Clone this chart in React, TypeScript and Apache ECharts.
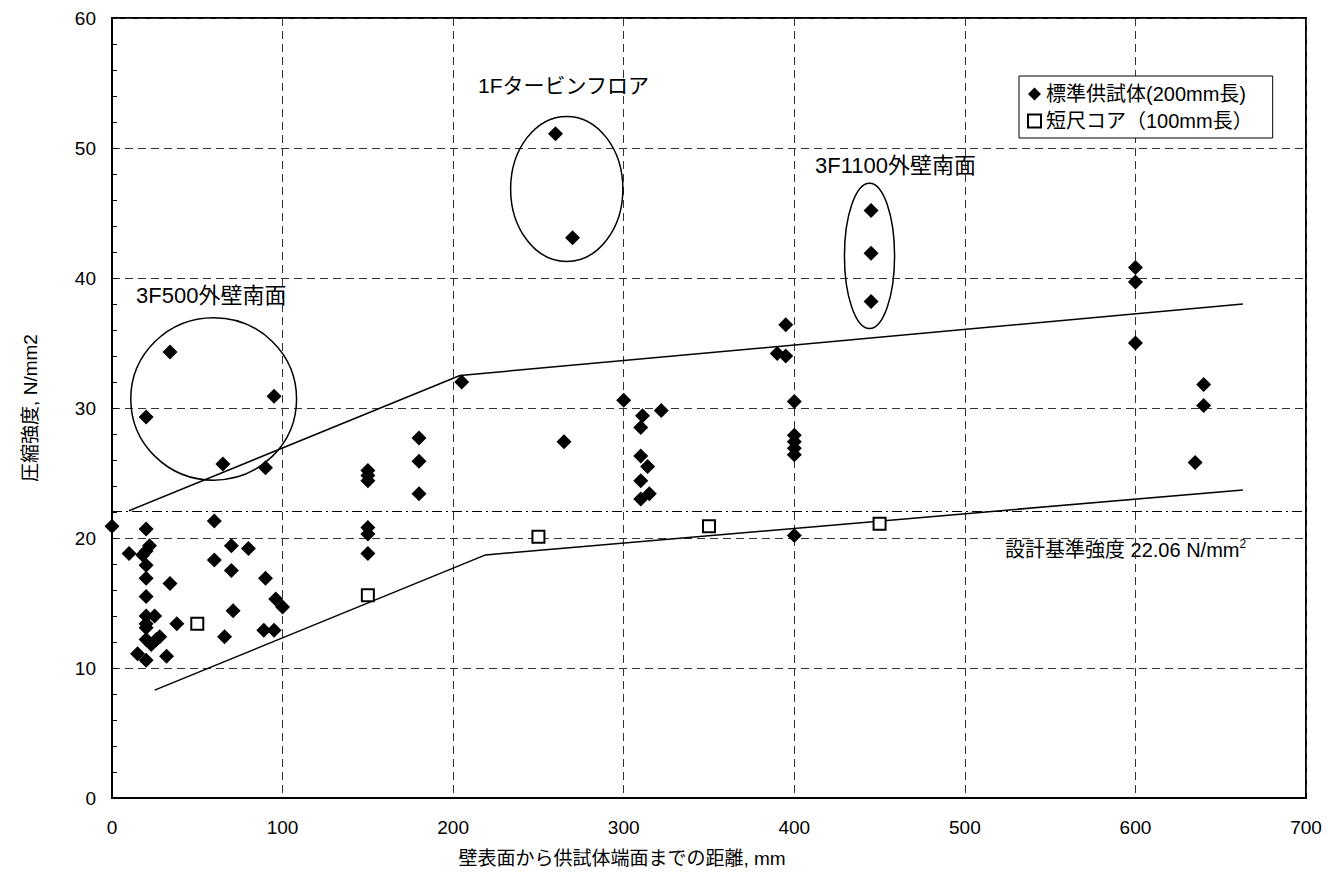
import React, { useEffect, useRef } from "react";
import * as echarts from "echarts";

const FONT = "'Liberation Sans', 'Noto Sans CJK JP', sans-serif";

const xTicks = [0, 100, 200, 300, 400, 500, 600, 700];
const yTicks = [0, 10, 20, 30, 40, 50, 60];

const seriesStdName = "標準供試体(200mm長)";
const seriesShortName = "短尺コア（100mm長）";

// 標準供試体 (distance mm, strength N/mm2)
const standardX = [
  0, 10, 15, 20, 20, 20, 18, 20, 20, 20, 20, 20, 20, 20, 20,
  22, 23, 25, 26, 28, 32, 34, 34, 38, 60, 60, 65, 66, 70, 70,
  71, 80, 89, 90, 90, 95, 95, 96, 100,
  150, 150, 150, 150, 150, 150, 180, 180, 180, 205,
  260, 265, 270, 300, 310, 310, 310, 310, 311, 314, 315, 322,
  390, 395, 395, 400, 400, 400, 400, 400, 400,
  445, 445, 445, 600, 600, 600, 635, 640, 640,
];
const standardY = [
  20.9, 18.8, 11.1, 29.3, 20.7, 19.0, 18.7, 17.9, 16.9, 15.5, 14.0, 13.4, 13.1, 12.2, 10.6,
  19.4, 11.8, 14.0, 12.2, 12.4, 10.9, 16.5, 34.3, 13.4, 21.3, 18.3, 25.7, 12.4, 19.4, 17.5,
  14.4, 19.2, 12.9, 25.4, 16.9, 30.9, 12.9, 15.3, 14.7,
  25.2, 24.8, 24.4, 20.8, 20.3, 18.8, 27.7, 25.9, 23.4, 32.0,
  51.1, 27.4, 43.1, 30.6, 28.5, 26.3, 24.4, 23.0, 29.4, 25.5, 23.4, 29.8,
  34.2, 36.4, 34.0, 30.5, 27.9, 27.4, 26.9, 26.4, 20.2,
  45.2, 41.9, 38.2, 40.8, 39.7, 35.0, 25.8, 31.8, 30.2,
];

// 短尺コア
const shortX = [50, 150, 250, 350, 450];
const shortY = [13.4, 15.6, 20.1, 20.9, 21.1];

// envelope lines
const upperX = [10, 204, 663];
const upperY = [22.1, 32.5, 38.0];
const lowerX = [25, 219, 663];
const lowerY = [8.3, 18.7, 23.7];

const designStrength = 22.06;

// annotation ellipses: centre x, centre y, radius x, radius y (data units)
const ellipseCx = [59.6, 266.6, 444.1];
const ellipseCy = [30.7, 46.85, 41.7];
const ellipseRx = [48.6, 32.9, 14.7];
const ellipseRy = [6.25, 5.58, 5.58];

const groupLabels = ["3F500外壁南面", "1Fタービンフロア", "3F1100外壁南面"];

const xName = "壁表面から供試体端面までの距離, mm";
const yName = "圧縮強度, N/mm2";

export default function App() {
  const ref = useRef<HTMLDivElement>(null);

  useEffect(() => {
    if (!ref.current) return;
    const chart = echarts.init(ref.current, null, { renderer: "svg" });

    const stdData = standardX.map((x, i) => [x, standardY[i]]);
    const shortData = shortX.map((x, i) => [x, shortY[i]]);
    const upperData = upperX.map((x, i) => [x, upperY[i]]);
    const lowerData = lowerX.map((x, i) => [x, lowerY[i]]);
    const ellipseData = ellipseCx.map((x, i) => [x, ellipseCy[i], ellipseRx[i], ellipseRy[i]]);

    const gridLine = { show: true, lineStyle: { color: "#333", type: [8, 5], width: 1 } };

    chart.setOption({
      animation: false,
      backgroundColor: "#fff",
      textStyle: { fontFamily: FONT, color: "#000" },
      grid: {
        left: 112,
        right: 22,
        top: 18,
        bottom: 85,
        show: true,
        borderColor: "#000",
        borderWidth: 2,
        backgroundColor: "transparent",
      },
      legend: {
        orient: "vertical",
        left: 1019,
        top: 76,
        padding: [8, 20, 7, 8],
        itemGap: 7,
        itemWidth: 13,
        itemHeight: 13,
        borderColor: "#000",
        borderWidth: 1,
        borderRadius: 0,
        backgroundColor: "#fff",
        textStyle: { fontSize: 20, color: "#000", fontFamily: FONT },
        data: [
          { name: seriesStdName, icon: "diamond" },
          { name: seriesShortName, icon: "rect" },
        ],
      },
      xAxis: {
        type: "value",
        min: xTicks[0],
        max: xTicks[xTicks.length - 1],
        interval: 100,
        axisLine: { show: true, lineStyle: { color: "#000", width: 2 } },
        axisTick: { show: false },
        axisLabel: { fontSize: 19, color: "#000", margin: 20, fontFamily: FONT },
        splitLine: gridLine,
      },
      yAxis: {
        type: "value",
        min: yTicks[0],
        max: yTicks[yTicks.length - 1],
        interval: 10,
        name: yName,
        nameLocation: "middle",
        nameGap: 72,
        nameTextStyle: { fontSize: 19, color: "#000", fontFamily: FONT },
        axisLine: { show: true, lineStyle: { color: "#000", width: 2 } },
        axisTick: { show: true, inside: true, length: 5, lineStyle: { color: "#000" } },
        minorTick: { show: true, splitNumber: 5, length: 5, lineStyle: { color: "#000" } },
        axisLabel: { fontSize: 19, color: "#000", margin: 16, fontFamily: FONT },
        splitLine: gridLine,
      },
      graphic: [
        {
          type: "text",
          x: 622,
          y: 858,
          style: {
            text: xName,
            fontSize: 19,
            fill: "#000",
            fontFamily: FONT,
            align: "center",
            verticalAlign: "middle",
          },
        },
        {
          type: "text",
          left: 136,
          top: 284,
          style: { text: groupLabels[0], fontSize: 22, fill: "#000", fontFamily: FONT },
        },
        {
          type: "text",
          left: 478,
          top: 75,
          style: { text: groupLabels[1], fontSize: 21, fill: "#000", fontFamily: FONT },
        },
        {
          type: "text",
          left: 815,
          top: 154,
          style: { text: groupLabels[2], fontSize: 22, fill: "#000", fontFamily: FONT },
        },
        {
          type: "text",
          left: 1005,
          top: 538,
          style: {
            text: "{a|設計基準強度 22.06 N/mm}{s|2}",
            rich: {
              a: { fontSize: 20, fill: "#000", fontFamily: FONT },
              s: { fontSize: 12, fill: "#000", fontFamily: FONT, verticalAlign: "top", padding: [0, 0, 12, 0] },
            },
          },
        },
      ],
      series: [
        {
          name: "designLine",
          type: "line",
          data: [],
          silent: true,
          markLine: {
            silent: true,
            symbol: ["none", "none"],
            label: { show: false },
            lineStyle: { color: "#000", type: [10, 4, 2, 4], width: 1 },
            data: [{ yAxis: designStrength }],
          },
        },
        {
          name: "upper",
          type: "line",
          data: upperData,
          symbol: "none",
          lineStyle: { color: "#000", width: 1.5 },
          silent: true,
        },
        {
          name: "lower",
          type: "line",
          data: lowerData,
          symbol: "none",
          lineStyle: { color: "#000", width: 1.5 },
          silent: true,
        },
        {
          name: "ellipses",
          type: "custom",
          data: ellipseData,
          silent: true,
          encode: { x: 0, y: 1 },
          renderItem: (params: any, api: any) => {
            const c = api.coord([api.value(0), api.value(1)]);
            const s = api.size([api.value(2), api.value(3)]);
            return {
              type: "ellipse",
              shape: { cx: c[0], cy: c[1], rx: s[0], ry: s[1] },
              style: { fill: "none", stroke: "#000", lineWidth: 1.5 },
            };
          },
        },
        {
          name: seriesStdName,
          type: "scatter",
          data: stdData,
          symbol: "diamond",
          symbolSize: 15,
          itemStyle: { color: "#000", opacity: 1 },
          z: 5,
        },
        {
          name: seriesShortName,
          type: "scatter",
          data: shortData,
          symbol: "rect",
          symbolSize: 12,
          itemStyle: { color: "#fff", borderColor: "#000", borderWidth: 2, opacity: 1 },
          z: 5,
        },
      ],
    });

    return () => chart.dispose();
  }, []);

  return (
    <div
      ref={ref}
      style={{ position: "fixed", left: 0, top: 0, width: 1328, height: 883, background: "#fff" }}
    />
  );
}
